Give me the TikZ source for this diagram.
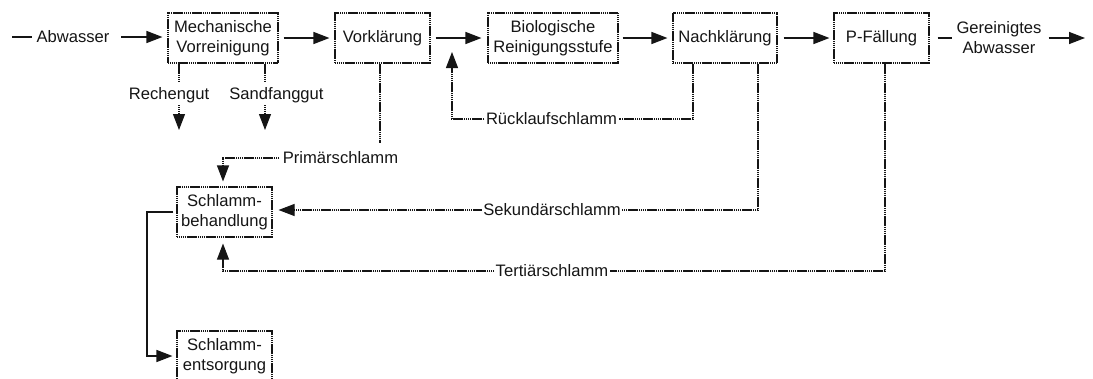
\documentclass[tikz,border=0pt]{standalone}
\usepackage{fontspec}
\setmainfont{Liberation Sans}
\usetikzlibrary{arrows.meta}
\definecolor{ink}{HTML}{151515}
\begin{document}
\begin{tikzpicture}[x=1pt,y=-1pt, color=ink,
  font=\fontsize{16.6}{20}\selectfont,
  box/.style={draw, dash pattern=on 1.4pt off 0.5pt, line width=1.1pt, align=center,
    minimum height=50pt, inner sep=2pt},
  tip/.style={-{Triangle[length=16pt,width=12pt]}},
  flow/.style={line width=1.4pt, tip},
  solidline/.style={line width=1.4pt},
  sludge/.style={line width=1.1pt, dash pattern=on 1.4pt off 0.5pt},
  lbl/.style={inner sep=1.5pt, align=center}]
\useasboundingbox (0,0) rectangle (1093,378);

% main line
\coordinate (src) at (12,37);
\node[lbl] (abw) at (73,37) {Abwasser};
\node[box, minimum width=110pt] (mech) at (223,38) {Mechanische\\Vorreinigung};
\node[box, minimum width=95pt] (vork) at (382.5,38) {Vorklärung};
\node[box, minimum width=130pt] (bio) at (553,38) {Biologische\\Reinigungsstufe};
\node[box, minimum width=104pt] (nach) at (725,38) {Nachklärung};
\node[box, minimum width=95pt] (pf) at (881.5,38) {P-Fällung};
\node[lbl] (out) at (999,38) {Gereinigtes\\Abwasser};
\coordinate (sink) at (1085,38);

\draw[solidline, shorten >=3pt] (src) -- (abw.west);
\draw[flow, shorten <=10pt, shorten >=5pt] (abw.east) -- (abw.east -| mech.west);
\draw[flow, shorten <=5pt, shorten >=5pt] (mech) -- (vork);
\draw[flow, shorten <=5pt, shorten >=6pt] (vork) -- (bio);
\draw[flow, shorten <=4pt, shorten >=5pt] (bio) -- (nach);
\draw[flow, shorten <=6pt, shorten >=4pt] (nach) -- (pf);
\draw[solidline, shorten <=8pt, shorten >=2.5pt] (pf.east) -- (pf.east -| out.west);
\draw[flow, shorten <=5.5pt] (pf.east -| out.east) -- (sink);

% Rechengut / Sandfanggut
\node[lbl] (rech) at (169,95) {Rechengut};
\node[lbl] (sand) at (276.5,95) {Sandfanggut};
\coordinate (r1) at (179,81);
\coordinate (r2) at (179,105);
\coordinate (r3) at (179,130);
\coordinate (s1) at (265,81);
\coordinate (s2) at (265,105);
\coordinate (s3) at (265,130);
\draw[sludge] (mech.south -| r1) -- (r1);
\draw[sludge, tip] (r2) -- (r3);
\draw[sludge] (mech.south -| s1) -- (s1);
\draw[sludge, tip] (s2) -- (s3);

% Ruecklaufschlamm
\node[lbl] (rl) at (551.5,119) {Rücklaufschlamm};
\coordinate (nx1) at (693,0);
\coordinate (rlin) at (452,52);
\draw[sludge] (nach.south -| nx1) |- (rl.east);
\draw[sludge, tip] (rl.west) -| (rlin);

% Schlammbehandlung
\node[box, minimum width=95pt] (sb) at (224.5,212) {Schlamm-\\behandlung};
\node[box, minimum width=95pt] (se) at (224.5,356) {Schlamm-\\entsorgung};
\coordinate (sx) at (223,0);

% Primaerschlamm
\coordinate (v1) at (380,143);
\node[lbl] (prim) at (340.5,158) {Primärschlamm};
\draw[sludge] (vork.south -| v1) -- (v1);
\draw[sludge, tip, shorten >=5pt] ([xshift=-2pt]prim.west) -| (sb.north -| sx);

% Sekundaerschlamm
\node[lbl] (sek) at (552,210) {Sekundärschlamm};
\coordinate (nx2) at (758,0);
\draw[sludge] (nach.south -| nx2) |- (sek.east);
\draw[sludge, tip, shorten >=6pt] (sek.west) -- (sek.west -| sb.east);

% Tertiaerschlamm
\node[lbl] (ter) at (552,271) {Tertiärschlamm};
\coordinate (px) at (885,0);
\draw[sludge] (pf.south -| px) |- (ter.east);
\draw[sludge, tip, shorten >=6pt] (ter.west) -| (sb.south -| sx);

% Entsorgung
\coordinate (lx) at (147,0);
\draw[flow, shorten <=3pt, shorten >=4pt] (sb.west) -- (sb.west -| lx) |- (se.west);
\end{tikzpicture}
\end{document}
